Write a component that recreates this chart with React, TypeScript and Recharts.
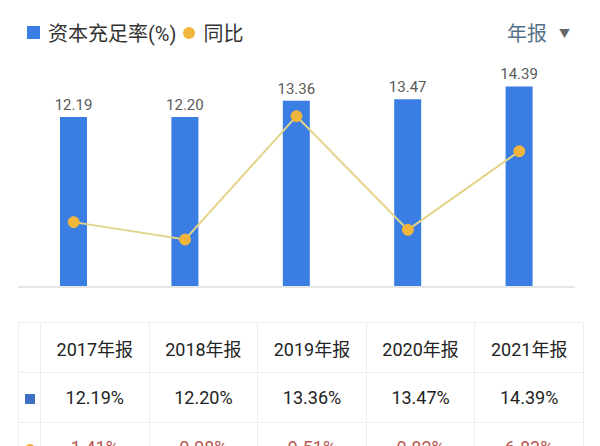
import { Bar, ComposedChart, LabelList, Line, XAxis, YAxis } from "recharts";

const years = ["2017年报", "2018年报", "2019年报", "2020年报", "2021年报"];
const capitalRatio = [12.19, 12.2, 13.36, 13.47, 14.39];
const yoy = [1.41, 0.08, 9.51, 0.82, 6.83];

const data = years.map((year, i) => ({
  year,
  ratio: capitalRatio[i],
  yoy: yoy[i],
}));

const FONT = '"Roboto", "Noto Sans CJK SC", sans-serif';
const BLUE = "#3a7de3";
const DOT = "#f0b63c";

const cell = {
  border: "1px solid #efefef",
  textAlign: "center" as const,
  padding: 0,
  height: 49,
};

export default function App() {
  return (
    <div
      style={{
        position: "absolute",
        left: 0,
        top: 0,
        width: 600,
        height: 446,
        overflow: "hidden",
        background: "#fff",
        fontFamily: FONT,
      }}
    >
      {/* legend */}
      <div
        style={{
          position: "absolute",
          left: 27,
          top: 18,
          display: "flex",
          alignItems: "center",
          fontSize: 20,
          color: "#333",
        }}
      >
        <span style={{ width: 13, height: 13, background: BLUE, marginRight: 8 }} />
        <span>资本充足率(%)</span>
        <span
          style={{
            width: 12,
            height: 12,
            borderRadius: 6,
            background: DOT,
            marginLeft: 7,
            marginRight: 8,
          }}
        />
        <span>同比</span>
      </div>

      <div
        style={{
          position: "absolute",
          left: 507,
          top: 18,
          fontSize: 20,
          color: "#557189",
          display: "flex",
          alignItems: "center",
        }}
      >
        <span>年报</span>
        <span style={{ fontSize: 11, color: "#666", marginLeft: 12 }}>▼</span>
      </div>

      <div style={{ position: "absolute", left: 0, top: 0 }}>
        <ComposedChart
          width={600}
          height={300}
          data={data}
          margin={{ top: 64, right: 25, bottom: 12, left: 18 }}
        >
          <XAxis
            dataKey="year"
            height={1}
            tick={false}
            tickLine={false}
            axisLine={{ stroke: "#e6e6e6", strokeWidth: 2 }}
          />
          <YAxis yAxisId="bar" hide domain={[0, 16]} />
          <YAxis yAxisId="line" hide orientation="right" domain={[-3.55, 13.5]} />
          <Bar
            yAxisId="bar"
            dataKey="ratio"
            fill={BLUE}
            barSize={27}
            isAnimationActive={false}
          >
            <LabelList
              dataKey="ratio"
              position="top"
              offset={7}
              fill="#5a5a5a"
              fontSize={15}
              formatter={(v: any) => Number(v).toFixed(2)}
            />
          </Bar>
          <Line
            yAxisId="line"
            dataKey="yoy"
            stroke="#e2d48a"
            strokeWidth={2}
            dot={{ r: 5.5, fill: DOT, stroke: DOT, strokeWidth: 1 }}
            isAnimationActive={false}
          />
        </ComposedChart>
      </div>

      {/* table */}
      <table
        style={{
          position: "absolute",
          left: 18,
          top: 322,
          width: 566,
          borderCollapse: "collapse",
          tableLayout: "fixed",
          fontSize: 18,
          color: "#222",
        }}
      >
        <colgroup>
          <col style={{ width: 22 }} />
          {years.map((y) => (
            <col key={y} />
          ))}
        </colgroup>
        <tbody>
          <tr>
            <td style={cell} />
            {years.map((y) => (
              <td key={y} style={cell}>
                {y}
              </td>
            ))}
          </tr>
          <tr>
            <td style={cell}>
              <span
                style={{
                  display: "inline-block",
                  width: 10,
                  height: 10,
                  background: "#3f6fc4",
                }}
              />
            </td>
            {capitalRatio.map((v, i) => (
              <td key={i} style={cell}>
                {v.toFixed(2)}%
              </td>
            ))}
          </tr>
          <tr>
            <td style={cell}>
              <span
                style={{
                  display: "inline-block",
                  width: 10,
                  height: 10,
                  borderRadius: 5,
                  background: DOT,
                }}
              />
            </td>
            {yoy.map((v, i) => (
              <td key={i} style={{ ...cell, color: "#b8574f" }}>
                {v.toFixed(2)}%
              </td>
            ))}
          </tr>
        </tbody>
      </table>
    </div>
  );
}
